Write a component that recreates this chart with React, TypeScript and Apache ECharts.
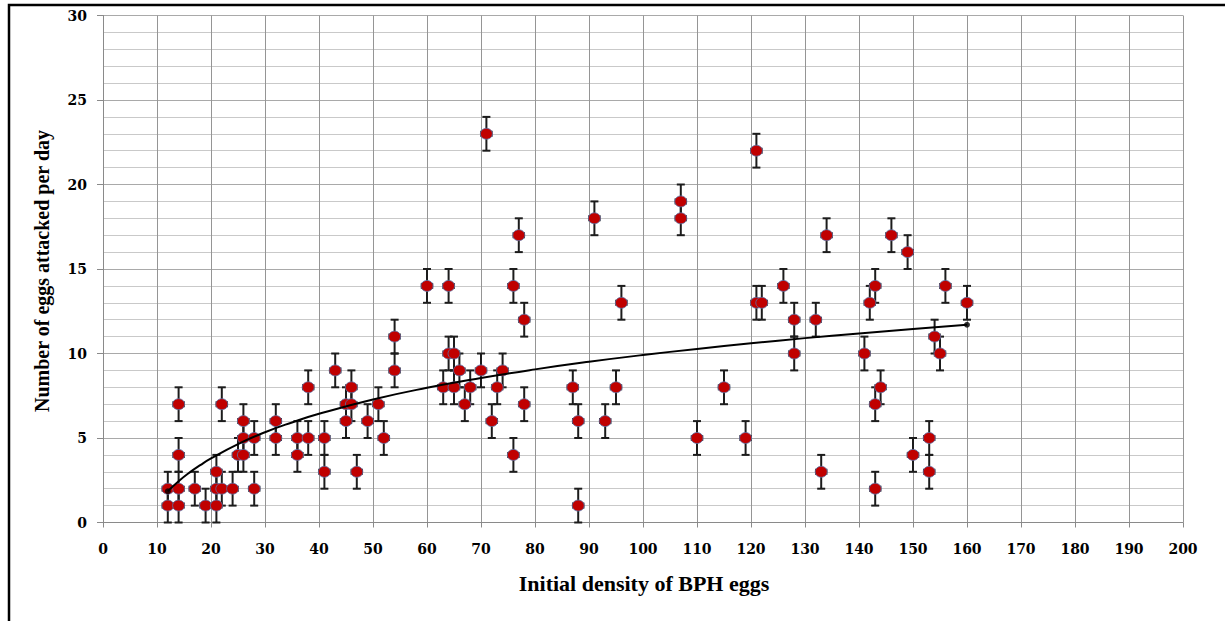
import React, { useEffect, useRef } from "react";
import * as echarts from "echarts";

// Initial density of BPH eggs (x) and number of eggs attacked per day (y)
const densityX = [
  12, 12, 14, 14, 14, 14, 17, 19, 21, 21, 21, 22, 22, 24, 25, 26, 26, 26, 28, 28,
  32, 32, 36, 36, 38, 38, 41, 41, 43, 45, 45, 46, 46, 47, 49, 51, 52, 54, 54, 60,
  63, 64, 64, 65, 65, 66, 67, 68, 70, 71, 72, 73, 74, 76, 76, 77, 78, 78, 87, 88,
  88, 91, 93, 95, 96, 107, 107, 110, 115, 119, 121, 121, 122, 126, 128, 128, 132, 133, 134, 141,
  142, 143, 143, 143, 144, 146, 149, 150, 153, 153, 154, 155, 156, 160,
];
const eggsY = [
  2, 1, 7, 4, 2, 1, 2, 1, 3, 2, 1, 7, 2, 2, 4, 6, 5, 4, 5, 2,
  6, 5, 5, 4, 8, 5, 5, 3, 9, 7, 6, 8, 7, 3, 6, 7, 5, 11, 9, 14,
  8, 14, 10, 10, 8, 9, 7, 8, 9, 23, 6, 8, 9, 14, 4, 17, 12, 7, 8, 6,
  1, 18, 6, 8, 13, 19, 18, 5, 8, 5, 22, 13, 13, 14, 12, 10, 12, 3, 17, 10,
  13, 14, 7, 2, 8, 17, 16, 4, 5, 3, 11, 10, 14, 13,
];
const errorY = 1;
const errorX = 1;

// Trend line
const trendX = [12, 14, 16, 18, 20, 25, 30, 35, 40, 50, 60, 70, 80, 90, 100, 110, 120, 130, 140, 150, 160];
const trendY = [1.85, 2.44, 2.95, 3.39, 3.79, 4.64, 5.34, 5.92, 6.43, 7.28, 7.97, 8.55, 9.06, 9.51, 9.91, 10.27, 10.6, 10.91, 11.19, 11.45, 11.7];

const xTitle = "Initial density of BPH eggs";
const yTitle = "Number of eggs attacked per day";

export default function App() {
  const ref = useRef<HTMLDivElement>(null);
  useEffect(() => {
    document.body.style.margin = "0";
    if (!ref.current) return;
    const chart = echarts.init(ref.current, undefined, { renderer: "svg" });
    const points = densityX.map((x, i) => [x, eggsY[i]]);
    const trend = trendX.map((x, i) => [x, trendY[i]]);
    const ends = [trend[0], trend[trend.length - 1]];
    const labelFont = {
      fontFamily: "DejaVu Serif",
      fontWeight: "bold" as const,
      fontSize: 14,
      color: "#000",
    };
    const option: any = {
      animation: false,
      backgroundColor: "#fff",
      grid: { left: 103, top: 15.5, right: 42, bottom: 98.5, containLabel: false },
      xAxis: {
        type: "value",
        min: 0,
        max: 200,
        interval: 10,
        axisLine: { show: true, lineStyle: { color: "#8a8a8a", width: 1 } },
        axisTick: { show: true, length: 5, lineStyle: { color: "#8a8a8a" } },
        axisLabel: { ...labelFont, margin: 19 },
        splitLine: { show: true, lineStyle: { color: "#959595", width: 1 } },
      },
      yAxis: {
        type: "value",
        min: 0,
        max: 30,
        interval: 5,
        axisLine: { show: true, lineStyle: { color: "#8a8a8a", width: 1 } },
        axisTick: { show: true, length: 6, lineStyle: { color: "#8a8a8a" } },
        axisLabel: { ...labelFont, margin: 16 },
        splitLine: { show: true, lineStyle: { color: "#a9a9a9", width: 1 } },
        minorTick: { show: false, splitNumber: 5 },
        minorSplitLine: { show: true, lineStyle: { color: "#c9c9c9", width: 1 } },
      },
      graphic: [
        {
          type: "rect",
          shape: { x: 9, y: 5, width: 1500, height: 900 },
          style: { fill: "none", stroke: "#000", lineWidth: 2.5 },
          silent: true,
          z: 100,
        },
        {
          type: "text",
          x: 42,
          y: 271,
          rotation: Math.PI / 2,
          style: {
            text: yTitle,
            font: 'bold 20px "Liberation Serif"',
            fill: "#000",
            textAlign: "center",
            textVerticalAlign: "middle",
          },
        },
        {
          type: "text",
          x: 644,
          y: 583,
          style: {
            text: xTitle,
            font: 'bold 22px "Liberation Serif"',
            fill: "#000",
            textAlign: "center",
            textVerticalAlign: "middle",
          },
        },
      ],
      series: [
        {
          type: "custom",
          name: "errors",
          z: 2,
          data: points,
          encode: { x: 0, y: 1 },
          renderItem: (params: any, api: any) => {
            const x = api.value(0);
            const y = api.value(1);
            const top = api.coord([x, y + errorY]);
            const bot = api.coord([x, y - errorY]);
            const left = api.coord([x - errorX, y]);
            const right = api.coord([x + errorX, y]);
            const cw = 4;
            const ch = 3;
            const style = { stroke: "#1c1c1c", lineWidth: 2 };
            const thin = { stroke: "#1c1c1c", lineWidth: 1.6 };
            return {
              type: "group",
              children: [
                { type: "line", shape: { x1: top[0], y1: top[1], x2: bot[0], y2: bot[1] }, style },
                { type: "line", shape: { x1: top[0] - cw, y1: top[1], x2: top[0] + cw, y2: top[1] }, style },
                { type: "line", shape: { x1: bot[0] - cw, y1: bot[1], x2: bot[0] + cw, y2: bot[1] }, style },
                { type: "line", shape: { x1: left[0], y1: left[1], x2: right[0], y2: right[1] }, style: thin },
                { type: "line", shape: { x1: left[0], y1: left[1] - ch, x2: left[0], y2: left[1] + ch }, style: thin },
                { type: "line", shape: { x1: right[0], y1: right[1] - ch, x2: right[0], y2: right[1] + ch }, style: thin },
              ],
            };
          },
        },
        {
          type: "scatter",
          name: "observed",
          z: 3,
          data: points,
          symbol: "circle",
          symbolSize: [12, 11],
          itemStyle: { color: "#c00000", borderColor: "#5a74a8", borderWidth: 0.8, opacity: 1 },
        },
        {
          type: "line",
          name: "trend",
          z: 4,
          data: trend,
          smooth: true,
          showSymbol: false,
          symbol: "none",
          lineStyle: { color: "#000", width: 2 },
        },
        {
          type: "scatter",
          name: "trendEnds",
          z: 5,
          data: ends,
          symbol: "circle",
          symbolSize: 6,
          itemStyle: { color: "#000" },
        },
      ],
    };
    chart.setOption(option);
    return () => chart.dispose();
  }, []);
  return <div ref={ref} style={{ width: 1225, height: 621 }} />;
}
